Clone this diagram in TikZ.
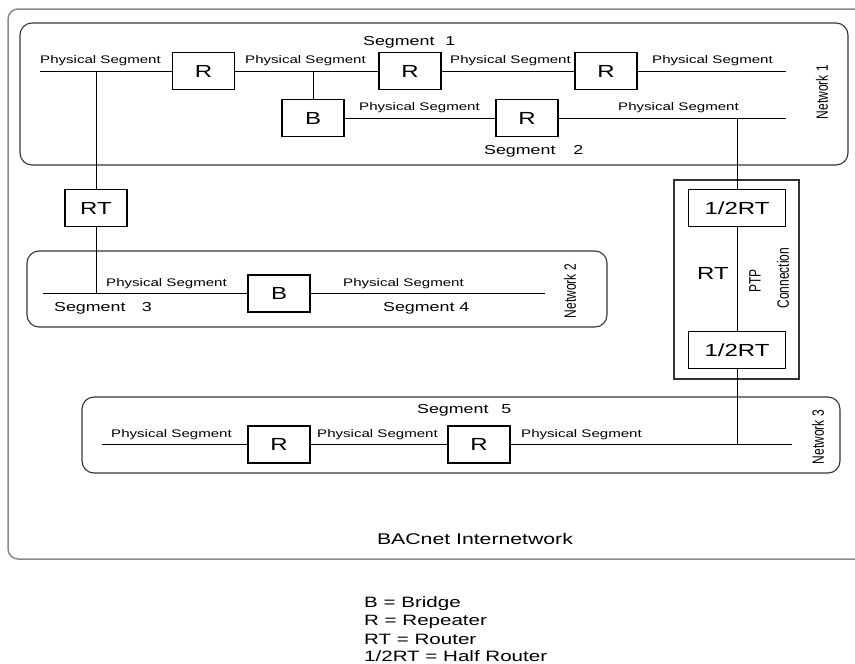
\documentclass[tikz,border=0pt]{standalone}
\usepackage{fontspec}
\setmainfont{Liberation Sans}
\usepackage{graphicx}
\newcommand\hs[1]{\scalebox{1.37}[1]{#1}}
\newcommand\vsc[1]{\scalebox{1}[1.37]{#1}}
\definecolor{framegray}{HTML}{8A8A8A}
\definecolor{netgray}{HTML}{333333}
\begin{document}
\begin{tikzpicture}[x=1pt,y=-1pt,
  dev/.style={draw, line width=1.1pt, minimum width=62pt, minimum height=37pt, inner sep=0pt, font=\fontsize{17.5}{20}\selectfont},
  half/.style={dev, minimum width=97pt},
  ps/.style={anchor=west, inner sep=0pt, font=\fontsize{11}{13}\selectfont},
  seg/.style={anchor=west, inner sep=0pt, font=\fontsize{13}{15}\selectfont},
  netlbl/.style={rotate=90, inner sep=0pt, font=\fontsize{12}{14}\selectfont},
  netbox/.style={draw=netgray, line width=1.1pt, rounded corners=12pt},
  wire/.style={line width=0.9pt},
  legend/.style={anchor=west, inner sep=0pt, font=\fontsize{15}{17}\selectfont}]
\useasboundingbox (0,0) rectangle (855,664);

% outer frame
\draw[framegray, line width=1.5pt, rounded corners=10pt] (875,9) -- (8,9) -- (8,559) -- (875,559);

% network boxes
\draw[netbox] (20,23) rectangle (848,165);
\draw[netbox] (27,251) rectangle (607,327);
\draw[netbox] (82,397) rectangle (840,473);
\draw[netgray, line width=1.1pt] (674,180) rectangle (799,379);

% devices
\node[dev] (R1) at (203.5,71) {\hs{R}};
\node[dev] (R2) at (410,71) {\hs{R}};
\node[dev] (R3) at (606,71) {\hs{R}};
\node[dev] (B1) at (313,118) {\hs{B}};
\node[dev] (R4) at (527,118) {\hs{R}};
\node[dev] (RT1) at (96,208) {\hs{RT}};
\node[dev] (B2) at (279,293.5) {\hs{B}};
\node[dev] (R5) at (279,444.5) {\hs{R}};
\node[dev] (R6) at (479,444.5) {\hs{R}};
\node[half] (H1) at (737,208) {\hs{1/2RT}};
\node[half] (H2) at (737,350) {\hs{1/2RT}};

% coordinates
\coordinate (n1a) at (40,71);
\coordinate (n1b) at (786,71);
\coordinate (n1c) at (786,118);
\coordinate (j0) at (96,71);
\coordinate (j1) at (313,71);
\coordinate (j2) at (737,118);
\coordinate (n2a) at (43,293.5);
\coordinate (n2b) at (545,293.5);
\coordinate (j4) at (96,293.5);
\coordinate (n3a) at (102,444.5);
\coordinate (n3b) at (792,444.5);
\coordinate (j3) at (737,444.5);

% wires
\draw[wire] (n1a) -- (R1) -- (R2) -- (R3) -- (n1b);
\draw[wire] (j1) -- (B1);
\draw[wire] (B1) -- (R4) -- (n1c);
\draw[wire] (j0) -- (RT1) -- (j4);
\draw[wire] (j2) -- (H1) -- (H2) -- (j3);
\draw[wire] (n2a) -- (B2) -- (n2b);
\draw[wire] (n3a) -- (R5) -- (R6) -- (n3b);

% physical segment labels
\node[ps] (p1) at (40,61) {\hs{Physical Segment}};
\node[ps] (p2) at (245,61) {\hs{Physical Segment}};
\node[ps] (p3) at (450,61) {\hs{Physical Segment}};
\node[ps] (p4) at (652,61) {\hs{Physical Segment}};
\node[ps] (p5) at (359,108) {\hs{Physical Segment}};
\node[ps] (p6) at (618,108) {\hs{Physical Segment}};
\node[ps] (p7) at (106,284) {\hs{Physical Segment}};
\node[ps] (p8) at (343,284) {\hs{Physical Segment}};
\node[ps] (p9) at (111,435) {\hs{Physical Segment}};
\node[ps] (p10) at (317,435) {\hs{Physical Segment}};
\node[ps] (p11) at (521,435) {\hs{Physical Segment}};

% segment labels
\node[seg] (s1) at (363,42) {\hs{Segment\hspace{8pt}1}};
\node[seg] (s2) at (484,151) {\hs{Segment\hspace{13pt}2}};
\node[seg] (s3) at (54,308) {\hs{Segment\hspace{12pt}3}};
\node[seg] (s4) at (383,308) {\hs{Segment 4}};
\node[seg] (s5) at (417,410) {\hs{Segment\hspace{9.5pt}5}};

% network labels
\node[netlbl] (nl1) at (822,92) {\vsc{Network 1}};
\node[netlbl] (nl2) at (570,291) {\vsc{Network 2}};
\node[netlbl] (nl3) at (818,437) {\vsc{Network 3}};

% PTP
\node[inner sep=0pt, font=\fontsize{17.5}{20}\selectfont] (rtl) at (713,273) {\hs{RT}};
\node[netlbl] (ptp) at (755,281) {\vsc{PTP}};
\node[netlbl] (conn) at (783,278) {\vsc{Connection}};

% title
\node[inner sep=0pt, font=\fontsize{15.5}{18}\selectfont] (title) at (475,539) {\hs{BACnet Internetwork}};

% legend
\node[legend] (l1) at (364,604) {\hs{B = Bridge}};
\node[legend] (l2) at (364,621.5) {\hs{R = Repeater}};
\node[legend] (l3) at (364,639) {\hs{RT = Router}};
\node[legend] (l4) at (364,656.5) {\hs{1/2RT = Half Router}};
\end{tikzpicture}
\end{document}
